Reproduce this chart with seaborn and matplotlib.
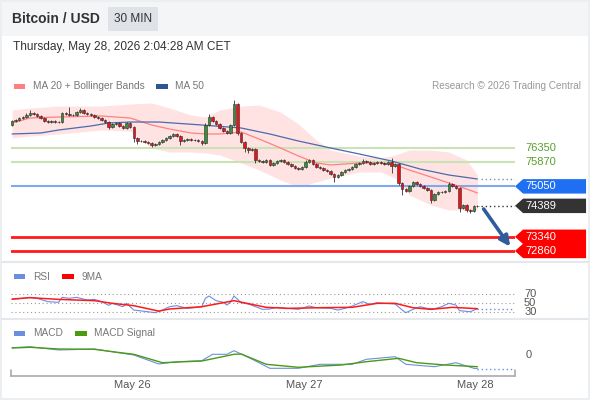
import numpy as np
import pandas as pd
import matplotlib
matplotlib.use("Agg")
import matplotlib.pyplot as plt
import seaborn as sns
from matplotlib.patches import Rectangle, Polygon
from matplotlib.lines import Line2D
from matplotlib.transforms import blended_transform_factory

# ---------------------------------- Data ----------------------------------

start_time = "2026-05-25 07:15"
first_open = 77130

closes = [77265, 77300, 77365, 77400, 77470, 77535, 77505, 77435, 77365, 77265,
          77230, 77265, 77230, 77230, 77535, 77505, 77470, 77470, 77570, 77640,
          77535, 77505, 77470, 77400, 77365, 77300, 77230, 77060, 77165, 77200,
          77095, 77030, 77200, 77060, 76690, 76585, 76585, 76555, 76520, 76450,
          76485, 76555, 76620, 76690, 76755, 76825, 76755, 76585, 76620, 76655,
          76620, 76620, 76585, 76520, 77130, 77400, 77265, 77165, 77030, 76925,
          76860, 77130, 77840, 76860, 76555, 76350, 76280, 76315, 75945, 75910,
          75875, 75945, 75775, 75840, 75910, 75945, 75875, 75810, 75740, 75670,
          75640, 75705, 75875, 75945, 75810, 75705, 75670, 75605, 75570, 75470,
          75365, 75435, 75535, 75605, 75640, 75705, 75810, 75840, 75910, 75875,
          75810, 75840, 75875, 75840, 75810, 75875, 75740, 75810, 75165, 74960,
          74890, 75060, 75200, 75130, 75060, 74995, 74925, 74590, 74790, 74860,
          74860, 74890, 75130, 75060, 74995, 74315, 74420, 74250, 74215, 74385,
          74389]

upper_wicks = [35, 35, 35, 35, 60, 100, 35, 35, 35, 35,
               35, 35, 35, 35, 40, 35, 250, 35, 35, 60,
               35, 35, 35, 35, 35, 35, 35, 40, 35, 35,
               35, 35, 35, 35, 40, 35, 35, 35, 35, 35,
               35, 35, 35, 35, 35, 35, 35, 35, 35, 35,
               35, 35, 35, 35, 60, 100, 35, 35, 35, 35,
               35, 35, 140, 35, 35, 35, 35, 35, 35, 35,
               35, 35, 35, 35, 35, 35, 35, 35, 35, 35,
               35, 35, 60, 35, 35, 35, 35, 35, 35, 35,
               35, 35, 35, 35, 35, 35, 35, 35, 60, 35,
               35, 35, 35, 35, 35, 35, 130, 35, 35, 35,
               35, 35, 40, 35, 35, 35, 35, 35, 35, 35,
               35, 35, 70, 35, 35, 35, 35, 35, 35, 40,
               35]

lower_wicks = [35, 35, 35, 35, 35, 35, 35, 35, 35, 35,
               35, 35, 35, 35, 35, 35, 35, 35, 35, 35,
               35, 35, 35, 35, 35, 35, 35, 60, 35, 35,
               35, 35, 35, 35, 150, 100, 35, 35, 35, 70,
               35, 35, 35, 35, 35, 35, 35, 130, 35, 35,
               35, 35, 35, 60, 35, 35, 35, 35, 35, 35,
               35, 35, 35, 60, 35, 150, 100, 35, 100, 35,
               35, 35, 35, 35, 35, 35, 35, 35, 35, 35,
               35, 35, 35, 35, 35, 35, 35, 35, 35, 35,
               170, 35, 35, 35, 35, 35, 35, 35, 35, 35,
               35, 35, 35, 35, 35, 35, 240, 35, 60, 200,
               35, 35, 35, 35, 35, 35, 35, 100, 35, 35,
               35, 35, 35, 35, 35, 120, 35, 70, 70, 35,
               35]

# MA 20 + Bollinger Bands, read at a few bars
band_bars = [0, 5, 13, 25, 33, 39, 44, 50, 54, 58, 64, 69, 75, 80, 85, 89, 93, 97, 103, 107, 111, 117, 122, 127, 130]
band_upper = [77638, 77706, 77774, 77774, 77842, 77876, 77706, 77469, 77401, 77638, 77774, 77808, 77570,
              77164, 76621, 76282, 76181, 76079, 76011, 76113, 76282, 76282, 76214, 75943, 75435]
band_lower = [76689, 76757, 76825, 76960, 76926, 76350, 76214, 76214, 76181, 76113, 75842, 75604, 75265,
              75028, 75197, 75333, 75435, 75536, 75536, 75333, 74757, 74418, 74248, 74248, 74248]
ma20 = [77198, 77367, 77401, 77435, 77367, 77130, 76994, 76859, 76825, 76825, 76892, 76655, 76350,
        76079, 75842, 75774, 75808, 75842, 75842, 75774, 75604, 75367, 75164, 74960, 74825]

ma50_bars = [0, 8, 13, 22, 27, 33, 41, 53, 64, 72, 80, 89, 97, 106, 114, 122, 130]
ma50 = [76825, 76859, 76960, 77096, 77198, 77231, 77231, 77130, 77028, 76825, 76587, 76350, 76147,
        75909, 75638, 75435, 75299]

resistances = [76350, 75870]
pivot = 75050
last_price = 74389
supports = [73340, 72860]

rsi_bars = [0, 3, 5, 7, 10, 13, 14, 16, 18, 21, 23, 25, 27, 28, 31, 32, 34, 37, 40, 42, 44, 46, 49, 51, 53,
            54, 55, 57, 59, 60, 61, 62, 64, 66, 70, 72, 74, 77, 80, 83, 85, 89, 91, 93, 95, 98, 100, 102,
            104, 107, 109, 110, 112, 114, 116, 118, 120, 122, 124, 125, 128, 130]
rsi_vals = [58.1, 60.4, 62.6, 60.4, 53.0, 51.5, 62.6, 60.4, 62.6, 56.7, 58.1, 53.0, 44.8, 49.3, 41.8,
            49.3, 34.4, 31.5, 28.5, 34.4, 41.8, 44.1, 38.1, 39.6, 41.8, 60.4, 65.6, 55.2, 51.5, 45.5,
            51.5, 65.6, 50.7, 47.8, 35.9, 36.7, 40.4, 38.1, 35.9, 43.3, 39.6, 38.1, 34.4, 38.1, 43.3,
            53.0, 47.0, 50.7, 49.3, 47.8, 34.4, 28.5, 35.9, 41.8, 38.1, 37.4, 41.8, 49.3, 45.5, 33.0,
            30.7, 37.4]
rsi_ma_bars = [0, 5, 13, 23, 28, 34, 41, 44, 53, 62, 71, 77, 86, 95, 102, 107, 112, 117, 123, 130]
rsi_ma_vals = [58.9, 61.8, 58.1, 55.2, 49.3, 44.1, 32.0, 36.7, 41.8, 55.2, 40.4, 38.1, 39.6, 40.4,
               49.3, 49.3, 39.6, 35.9, 40.4, 37.4]
rsi_levels = [70, 50, 30]

macd_bars = [0, 5, 13, 23, 28, 34, 41, 46, 53, 56, 60, 62, 66, 72, 80, 86, 95, 99, 107, 110, 118, 124, 129, 130]
macd_vals = [73, 83, 50, 60, 33, 0, -90, -67, -57, 7, 7, 43, -23, -133, -133, -93, -93, -43, -17, -93,
             -117, -77, -133, -137]
signal_bars = [0, 5, 13, 23, 28, 34, 42, 53, 62, 64, 71, 80, 92, 99, 108, 113, 121, 130]
signal_vals = [70, 77, 60, 57, 33, 7, -77, -60, 7, 10, -93, -123, -100, -67, -33, -77, -100, -117]

# ---------------------------------- Prepare ----------------------------------

opens = [first_open] + closes[:-1]
candles = pd.DataFrame({"open": opens, "close": closes})
candles["bar"] = np.arange(len(candles))
candles["high"] = candles[["open", "close"]].max(axis=1) + upper_wicks
candles["low"] = candles[["open", "close"]].min(axis=1) - lower_wicks
candles["time"] = pd.date_range(start_time, periods=len(candles), freq="30min")
colors = np.where(candles["close"] >= candles["open"], "#3b8f3b", "#e8141c")

t0 = candles["time"].iloc[0]
days = pd.date_range(t0.ceil("D"), candles["time"].iloc[-1], freq="D")
day_pos = (days - t0) / pd.Timedelta("30min")
day_labels = days.strftime("%b %d")

# ---------------------------------- Figure ----------------------------------

sns.set_style("white")
plt.rcParams["font.family"] = ["Liberation Sans", "DejaVu Sans"]

W, H = 590, 400


def box(x0, y0, x1, y1):
    return [x0 / W, 1 - y1 / H, (x1 - x0) / W, (y1 - y0) / H]


def fig_rect(x0, y0, x1, y1, color, z=0):
    fig.add_artist(Rectangle((x0 / W, 1 - y1 / H), (x1 - x0) / W, (y1 - y0) / H,
                             transform=fig.transFigure, fc=color, ec="none", zorder=z))


fig = plt.figure(figsize=(5.9, 4), dpi=100)
fig.patch.set_facecolor("#eceff2")
fig_rect(2, 2, 588, 398, "white", -2)
fig_rect(2, 2, 588, 36, "#f4f5f7", -1)
for y in [262, 319]:
    fig.add_artist(Line2D([2 / W, 588 / W], [1 - y / H] * 2, color="#e4e7eb", lw=1.5))

fig.text(12 / W, 1 - 19 / H, "Bitcoin / USD", fontsize=10, fontweight="bold", color="#333333", va="center")
fig_rect(108, 7, 158, 31, "#dfe2e6")
fig.text(133 / W, 1 - 19 / H, "30 MIN", fontsize=8.5, color="#333333", va="center", ha="center")
fig.text(13 / W, 1 - 47 / H, "Thursday, May 28, 2026 2:04:28 AM CET", fontsize=8.6, color="#333333", va="center")

# legends
fig_rect(14, 84, 25, 89, "#ff8080")
fig.text(33 / W, 1 - 86 / H, "MA 20 + Bollinger Bands", fontsize=7.3, color="#777777", va="center")
fig_rect(156, 84, 168, 89, "#2f5597")
fig.text(175 / W, 1 - 86 / H, "MA 50", fontsize=7.3, color="#777777", va="center")
fig.text(581 / W, 1 - 86 / H, "Research \u00a9 2026 Trading Central", fontsize=7.2, color="#999999",
         va="center", ha="right")
fig_rect(14, 274, 25, 279, "#6b8ee0")
fig.text(33 / W, 1 - 277 / H, "RSI", fontsize=7.3, color="#777777", va="center")
fig_rect(62, 274, 74, 279, "#ff0000")
fig.text(82 / W, 1 - 277 / H, "9MA", fontsize=7.3, color="#777777", va="center")
fig_rect(14, 331, 25, 336, "#6b8ee0")
fig.text(33 / W, 1 - 333 / H, "MACD", fontsize=7.3, color="#777777", va="center")
fig_rect(75, 331, 87, 336, "#4a9a12")
fig.text(94 / W, 1 - 333 / H, "MACD Signal", fontsize=7.3, color="#777777", va="center")

ax_p = fig.add_axes(box(11, 95, 515, 258))
ax_r = fig.add_axes(box(11, 286, 515, 318))
ax_m = fig.add_axes(box(11, 338, 515, 376))
x_range = (-0.3, 140.5)
for ax in [ax_p, ax_r, ax_m]:
    ax.set_xlim(*x_range)
    ax.patch.set_alpha(0)

# ---------------------------------- Price panel ----------------------------------

ax_p.set_ylim(72621, 78147)
ax_p.axis("off")
ax_p.fill_between(band_bars, band_lower, band_upper, color="#ffdcdc", alpha=0.8, lw=0, zorder=1)
sns.lineplot(x=band_bars, y=ma20, ax=ax_p, color="#ff8080", linewidth=0.9, zorder=2)
sns.lineplot(x=ma50_bars, y=ma50, ax=ax_p, color="#4a6aad", linewidth=0.9, zorder=2)

for lvl in resistances:
    ax_p.axhline(lvl, color="#c9e3b7", lw=1.5, zorder=1.5)
ax_p.axhline(pivot, color="#7fa8ef", lw=1.5, zorder=1.5)
for lvl in supports:
    ax_p.axhline(lvl, color="#ff1a1a", lw=2, zorder=1.5)

ax_p.vlines(candles["bar"], candles["low"], candles["high"], color="#333333", linewidth=0.6, zorder=3)
ax_p.bar(candles["bar"], candles["close"] - candles["open"], bottom=candles["open"], width=0.7,
         color=colors, edgecolor="#2b2b2b", linewidth=0.4, zorder=4)

last_bar = candles["bar"].iloc[-1]
ax_p.plot([last_bar + 1, x_range[1]], [ma50[-1], ma50[-1]], ls=(0, (1, 2)), color="#7a8bb0", lw=1)
ax_p.plot([last_bar + 1, x_range[1]], [last_price, last_price], ls=(0, (1, 2)), color="#333333", lw=1)
ax_p.annotate("", xy=(139.6, 72930), xytext=(last_bar + 1.3, last_price - 30),
              arrowprops=dict(arrowstyle="-|>", color="#2f5d9c", lw=2.6, mutation_scale=15))

trans_p = blended_transform_factory(ax_p.transAxes, ax_p.transData)
for lvl in resistances:
    ax_p.text(1.02, lvl, str(lvl), transform=trans_p, fontsize=8, color="#5a9f2c", va="center")


def tag(price, color, half=245):
    pts = [(1.0, price), (1.016, price + half), (1.141, price + half), (1.141, price - half), (1.016, price - half)]
    ax_p.add_patch(Polygon(pts, closed=True, transform=trans_p, fc=color, ec="none", clip_on=False, zorder=5))
    ax_p.text(1.02, price, str(price), transform=trans_p, fontsize=8, color="white", va="center", zorder=6)


tag(pivot, "#1f6ff2")
tag(last_price, "#333333")
for lvl in supports:
    tag(lvl, "#ff0000")

# ---------------------------------- RSI panel ----------------------------------

ax_r.set_ylim(16.7, 87.8)
ax_r.axis("off")
trans_r = blended_transform_factory(ax_r.transAxes, ax_r.transData)
for lvl in rsi_levels:
    ax_r.axhline(lvl, color="#9a9a9a", lw=0.8, ls=(0, (1, 2.5)))
    ax_r.text(1.018, lvl, str(lvl), transform=trans_r, fontsize=8, color="#555555", va="center")
sns.lineplot(x=rsi_bars, y=rsi_vals, ax=ax_r, color="#6b8ee0", linewidth=0.8)
sns.lineplot(x=rsi_ma_bars, y=rsi_ma_vals, ax=ax_r, color="#ff1a1a", linewidth=1.1)
ax_r.plot([rsi_bars[-1], x_range[1]], [rsi_vals[-1]] * 2, ls=(0, (1, 2)), color="#6b8ee0", lw=1)

# ---------------------------------- MACD panel ----------------------------------

ax_m.set_ylim(-210, 170)
sns.lineplot(x=macd_bars, y=macd_vals, ax=ax_m, color="#6b8ee0", linewidth=0.8)
sns.lineplot(x=signal_bars, y=signal_vals, ax=ax_m, color="#4a9a12", linewidth=1.0)
ax_m.plot([macd_bars[-1], x_range[1]], [macd_vals[-1]] * 2, ls=(0, (1, 2)), color="#6b8ee0", lw=1)
trans_m = blended_transform_factory(ax_m.transAxes, ax_m.transData)
ax_m.text(1.022, 0, "0", transform=trans_m, fontsize=8, color="#555555", va="center")

sns.despine(ax=ax_m, left=True)
ax_m.spines["bottom"].set_color("#aaaaaa")
ax_m.spines["bottom"].set_linewidth(1.2)
for xe in [0, 1]:
    ax_m.plot([xe, xe], [0, 0.16], transform=ax_m.transAxes, color="#aaaaaa", lw=1.2, clip_on=False)
ax_m.set_yticks([])
ax_m.set_xticks(day_pos)
ax_m.set_xticklabels(day_labels)
ax_m.tick_params(axis="x", length=0, labelsize=8, labelcolor="#555555", pad=3)
ax_m.set_xlabel("")
ax_m.set_ylabel("")

fig.savefig("out.png", dpi=100)
